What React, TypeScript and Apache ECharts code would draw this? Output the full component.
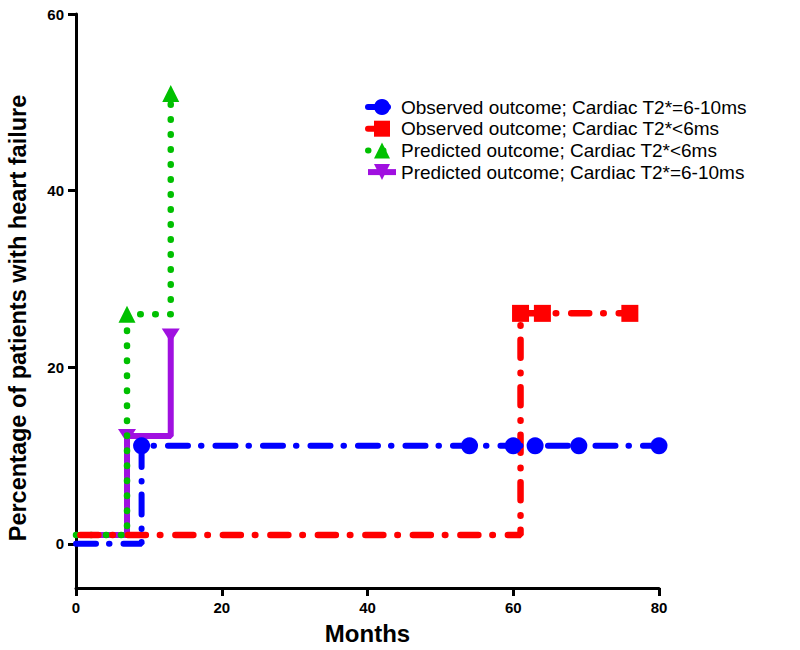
import React, { useEffect, useRef } from "react";
import * as echarts from "echarts";

const seriesNames = [
  "Observed outcome; Cardiac T2*=6-10ms",
  "Observed outcome; Cardiac T2*<6ms",
  "Predicted outcome; Cardiac T2*<6ms",
  "Predicted outcome; Cardiac T2*=6-10ms",
];

// [months, percentage]; first point of each is the unmarked start of the step line
const observed610: [number, number][] = [
  [0, 0], [9, 11.1], [54, 11.1], [60, 11.1], [63, 11.1], [69, 11.1], [80, 11.1],
];
const observedLt6: [number, number][] = [
  [0.6, 1], [61, 26.1], [64, 26.1], [76, 26.1],
];
const predictedLt6: [number, number][] = [
  [0, 1], [7, 26], [13, 51],
];
const predicted610: [number, number][] = [
  [0, 1], [7, 12.2], [13, 23.6],
];

const yTicks = [0, 20, 40, 60];

const FONT = 'Arial, "Liberation Sans", Helvetica, sans-serif';

function toData(pts: [number, number][]) {
  return pts.map((p, i) => (i === 0 ? { value: p, symbol: "none" } : { value: p }));
}

export default function App() {
  const ref = useRef<HTMLDivElement>(null);
  useEffect(() => {
    if (!ref.current) return;
    const chart = echarts.init(ref.current, undefined, { renderer: "svg" });
    const axisLine = { show: true, onZero: false, lineStyle: { color: "#000", width: 3 } };
    const tickStyle = { color: "#000", width: 3 };
    const labelStyle = {
      color: "#000",
      fontFamily: FONT,
      fontWeight: "bold" as const,
      fontSize: 15,
      margin: 12,
    };
    chart.setOption({
      animation: false,
      backgroundColor: "#fff",
      textStyle: { fontFamily: FONT },
      grid: { left: 76, right: 141, top: 14, bottom: 62, containLabel: false, outerBoundsMode: "none" },
      xAxis: {
        type: "value",
        min: 0,
        max: 80,
        interval: 20,
        name: "Months",
        nameLocation: "middle",
        nameGap: 33,
        nameTextStyle: { color: "#000", fontFamily: FONT, fontWeight: "bold", fontSize: 24 },
        axisLine,
        axisTick: { show: true, inside: false, length: 8, lineStyle: tickStyle },
        splitLine: { show: false },
        axisLabel: labelStyle,
      },
      yAxis: {
        type: "value",
        min: -5,
        max: 60,
        interval: 5,
        axisLine,
        axisTick: { show: true, inside: false, length: 8, lineStyle: tickStyle, customValues: yTicks },
        splitLine: { show: false },
        axisLabel: {
          ...labelStyle,
          formatter: (v: number) => (v >= 0 && v % 20 === 0 ? String(v) : ""),
        },
      },
      legend: {
        orient: "vertical",
        left: 360,
        top: 92,
        itemWidth: 28,
        itemHeight: 20,
        itemGap: 1.7,
        data: seriesNames,
        lineStyle: { width: 6 },
        textStyle: {
          color: "#000",
          fontFamily: FONT,
          fontSize: 19,
          lineHeight: 20,
        },
      },
      graphic: [
        {
          type: "text",
          x: 18,
          y: 318,
          rotation: Math.PI / 2,
          style: {
            text: "Percentage of patients with heart failure",
            fill: "#000",
            font: `bold 23.5px ${FONT}`,
            textAlign: "center",
            textVerticalAlign: "middle",
          },
        },
      ],
      series: [
        {
          name: seriesNames[0],
          type: "line",
          step: "end",
          z: 5,
          data: toData(observed610),
          symbol: "circle",
          symbolSize: 17,
          color: "#0000FF",
          itemStyle: { color: "#0000FF" },
          lineStyle: { color: "#0000FF", width: 6, type: [20, 13, 0.5, 14], cap: "round" },
        },
        {
          name: seriesNames[1],
          type: "line",
          step: "end",
          z: 4,
          data: toData(observedLt6),
          symbol: "rect",
          symbolSize: 17,
          color: "#FF0000",
          itemStyle: { color: "#FF0000" },
          lineStyle: { color: "#FF0000", width: 6.5, type: [18, 14, 0.5, 15], cap: "round" },
        },
        {
          name: seriesNames[2],
          type: "line",
          step: "end",
          z: 3,
          data: toData(predictedLt6),
          symbol: "triangle",
          symbolSize: 17,
          color: "#00C000",
          itemStyle: { color: "#00C000" },
          lineStyle: { color: "#00C000", width: 6.5, type: [0.5, 14.5], cap: "round" },
        },
        {
          name: seriesNames[3],
          type: "line",
          step: "end",
          z: 2,
          data: toData(predicted610),
          symbol: "triangle",
          symbolRotate: 180,
          symbolSize: [18, 14],
          color: "#A010E0",
          itemStyle: { color: "#A010E0" },
          lineStyle: { color: "#A010E0", width: 6, type: "solid" },
        },
      ],
    });
    return () => chart.dispose();
  }, []);
  return (
    <div
      ref={ref}
      style={{ position: "fixed", left: 0, top: 0, width: 800, height: 650, background: "#fff" }}
    />
  );
}
